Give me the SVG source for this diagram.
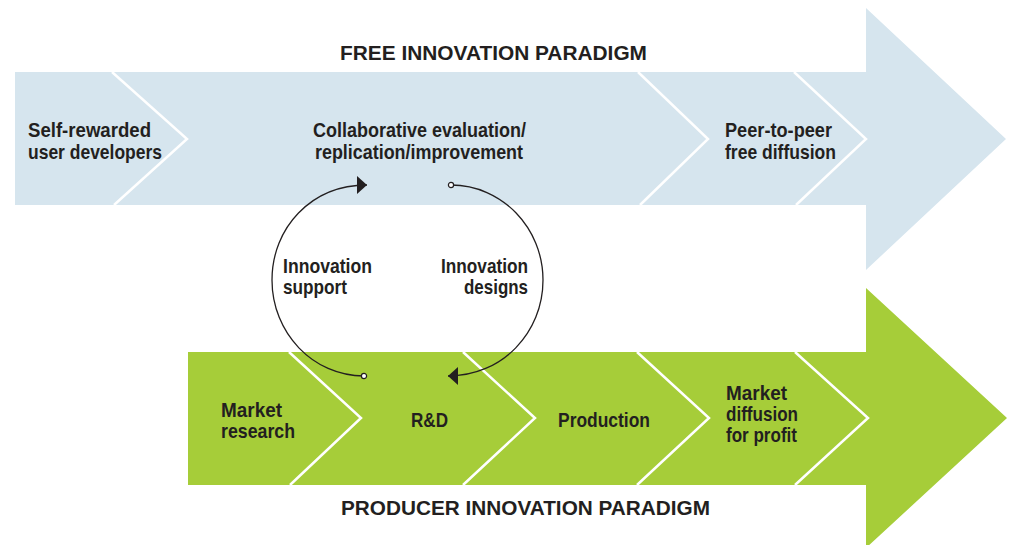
<svg xmlns="http://www.w3.org/2000/svg" width="1010" height="545" viewBox="0 0 1010 545">
<defs>
<style>
.lbl{font-family:"Liberation Sans Narrow","Liberation Sans",Arial,sans-serif;font-weight:bold;font-size:20.5px;fill:#231f20}
.ttl{font-family:"Liberation Sans",Arial,sans-serif;font-weight:bold;font-size:20.5px;fill:#231f20}
.div{fill:none;stroke:#ffffff;stroke-width:2.5}
.conn{fill:none;stroke:#231f20;stroke-width:1.3}
</style>
<marker id="tri" viewBox="0 0 10 18" refX="10" refY="9" markerWidth="10" markerHeight="18" markerUnits="userSpaceOnUse" orient="auto">
<path d="M0,0 L10,9 L0,18 Z" fill="#231f20"/>
</marker>
<marker id="dot" viewBox="0 0 8 8" refX="4" refY="4" markerWidth="8" markerHeight="8" markerUnits="userSpaceOnUse" orient="auto">
<circle cx="4" cy="4" r="2.6" fill="#ffffff" stroke="#231f20" stroke-width="1.2"/>
</marker>
</defs>
<rect width="1010" height="545" fill="#ffffff"/>

<g id="free-paradigm">
<polygon points="15,72 866,72 866,8 1006,139 866,270 866,205 15,205" fill="#d6e5ee"/>
<polyline class="div" points="112,72 187,139 114,205"/>
<polyline class="div" points="638,72 708,139 640,205"/>
<polyline class="div" points="794,72 866,139 796,205"/>
<text class="ttl" x="340" y="60" textLength="307" lengthAdjust="spacingAndGlyphs">FREE INNOVATION PARADIGM</text>
</g>

<g id="producer-paradigm">
<polygon points="188,352 866,352 866,288 1007,418 866,548 866,485 188,485" fill="#a6cd39"/>
<polyline class="div" points="289,352 361,418 290,485"/>
<polyline class="div" points="463,352 535,418 463,485"/>
<polyline class="div" points="637,352 709,418 637,485"/>
<polyline class="div" points="795,352 868,418 795,485"/>
<text class="ttl" x="341" y="515" textLength="369" lengthAdjust="spacingAndGlyphs">PRODUCER INNOVATION PARADIGM</text>
</g>

<g id="self-rewarded">
<text class="lbl" x="28" y="137" textLength="123" lengthAdjust="spacingAndGlyphs">Self-rewarded</text>
<text class="lbl" x="28" y="159" textLength="134" lengthAdjust="spacingAndGlyphs">user developers</text>
</g>
<g id="collaborative">
<text class="lbl" x="313" y="137" textLength="213" lengthAdjust="spacingAndGlyphs">Collaborative evaluation/</text>
<text class="lbl" x="315" y="159" textLength="208" lengthAdjust="spacingAndGlyphs">replication/improvement</text>
</g>
<g id="peer-to-peer">
<text class="lbl" x="725" y="137" textLength="107" lengthAdjust="spacingAndGlyphs">Peer-to-peer</text>
<text class="lbl" x="725" y="159" textLength="111" lengthAdjust="spacingAndGlyphs">free diffusion</text>
</g>
<g id="market-research">
<text class="lbl" x="221" y="417" textLength="61" lengthAdjust="spacingAndGlyphs">Market</text>
<text class="lbl" x="221" y="438" textLength="74" lengthAdjust="spacingAndGlyphs">research</text>
</g>
<g id="rnd">
<text class="lbl" x="411" y="427" textLength="37" lengthAdjust="spacingAndGlyphs">R&amp;D</text>
</g>
<g id="production">
<text class="lbl" x="558" y="427" textLength="92" lengthAdjust="spacingAndGlyphs">Production</text>
</g>
<g id="market-diffusion">
<text class="lbl" x="726" y="400" textLength="61" lengthAdjust="spacingAndGlyphs">Market</text>
<text class="lbl" x="726" y="421" textLength="72" lengthAdjust="spacingAndGlyphs">diffusion</text>
<text class="lbl" x="726" y="442" textLength="71" lengthAdjust="spacingAndGlyphs">for profit</text>
</g>

<g id="connectors">
<path class="conn" d="M364,376 C313,376 272,333 272,280 C272,228 311,185 367,185" marker-start="url(#dot)" marker-end="url(#tri)"/>
<path class="conn" d="M451,185 C502,185 543,228 543,280 C543,333 502,376 448,376" marker-start="url(#dot)" marker-end="url(#tri)"/>
<g id="innovation-support">
<text class="lbl" x="283" y="273" textLength="89" lengthAdjust="spacingAndGlyphs">Innovation</text>
<text class="lbl" x="283" y="294" textLength="64" lengthAdjust="spacingAndGlyphs">support</text>
</g>
<g id="innovation-designs">
<text class="lbl" x="441" y="273" textLength="87" lengthAdjust="spacingAndGlyphs">Innovation</text>
<text class="lbl" x="464" y="294" textLength="64" lengthAdjust="spacingAndGlyphs">designs</text>
</g>
</g>
</svg>
